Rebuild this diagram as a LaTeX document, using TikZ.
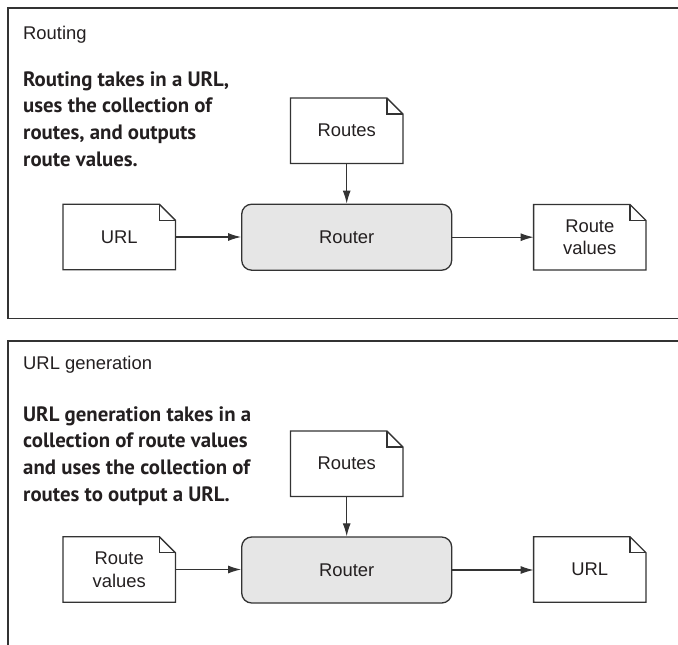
\documentclass[tikz,border=0pt]{standalone}
\usepackage{fontspec}
\setmainfont{Liberation Sans}
\newfontfamily\descfont{PT Sans}
\usetikzlibrary{arrows.meta}
\definecolor{ink}{HTML}{333333}
\definecolor{txt}{HTML}{231F20}
\definecolor{fillgray}{HTML}{E6E6E6}
\newcommand\labelfont{\fontsize{18.4}{22.6}\selectfont}
\newcommand\descfontsize{\descfont\bfseries\fontsize{20.8}{26.7}\selectfont}
\newcommand\docline[1]{%
  \draw[docoutline] (#1.south west) -- (#1.north west) -- ([xshift=-16pt]#1.north east) -- ([yshift=-16pt]#1.north east) -- (#1.south east) -- cycle;
  \draw[docoutline] ([xshift=-16pt]#1.north east) |- ([yshift=-16pt]#1.north east);}
\tikzset{
  panel/.style={line width=1.5pt, draw=ink},
  docbox/.style={minimum width=112pt, minimum height=65pt, inner sep=0pt, align=center, font=\labelfont, text=txt},
  routerbox/.style={draw=ink, fill=fillgray, rounded corners=10pt, line width=1.3pt, minimum width=210pt, minimum height=66pt, inner sep=0pt, font=\labelfont, text=txt},
  flow/.style={-{Latex[length=13pt,width=8pt]}, line width=1.1pt, draw=ink},
  docoutline/.style={draw=ink, line width=1.3pt, line join=miter},
  titletext/.style={anchor=base west, inner sep=0pt, font=\labelfont, text=txt},
  desctext/.style={anchor=base west, inner sep=0pt, font=\descfontsize, text=txt}
}
\begin{document}
\begin{tikzpicture}[x=1pt,y=-1pt]
\useasboundingbox (0,0) rectangle (678,645);
% panels
\draw[panel] (678,8) -- (8,8) -- (8,318.5) -- (678,318.5);
\draw[panel] (678,341) -- (8,341) -- (8,645);

% ---------- Routing ----------
\node[titletext] (title1) at (23,39.3) {Routing};
\node[desctext] (desc1) at (23,86) {\begin{tabular}[t]{@{}l@{}}Routing takes in a URL,\\uses the collection of\\routes, and outputs\\route values.\end{tabular}};

\node[docbox] (routes1) at (346.7,130.7) {Routes};
\docline{routes1}
\node[routerbox] (router1) at (346.7,237.2) {Router};
\node[docbox] (url1) at (119.2,237) {URL};
\docline{url1}
\node[docbox] (rv1) at (589.8,237.2) {Route\\values};
\docline{rv1}

\draw[flow] (routes1.south) -- (router1.north);
\draw[flow] (url1.east) -- (url1.east -| router1.west);
\draw[flow] (router1.east) -- (router1.east -| rv1.west);

% ---------- URL generation ----------
\node[titletext] (title2) at (23,369.3) {URL generation};
\node[desctext] (desc2) at (23,421) {\begin{tabular}[t]{@{}l@{}}URL generation takes in a\\collection of route values\\and uses the collection of\\routes to output a URL.\end{tabular}};

\node[docbox] (routes2) at (346.7,463.7) {Routes};
\docline{routes2}
\node[routerbox] (router2) at (346.7,570) {Router};
\node[docbox] (rv2) at (119.2,569.5) {Route\\values};
\docline{rv2}
\node[docbox] (url2) at (589.8,569.5) {URL};
\docline{url2}

\draw[flow] (routes2.south) -- (router2.north);
\draw[flow] (rv2.east) -- (rv2.east -| router2.west);
\draw[flow] (router2.east) -- (router2.east -| url2.west);
\end{tikzpicture}
\end{document}
